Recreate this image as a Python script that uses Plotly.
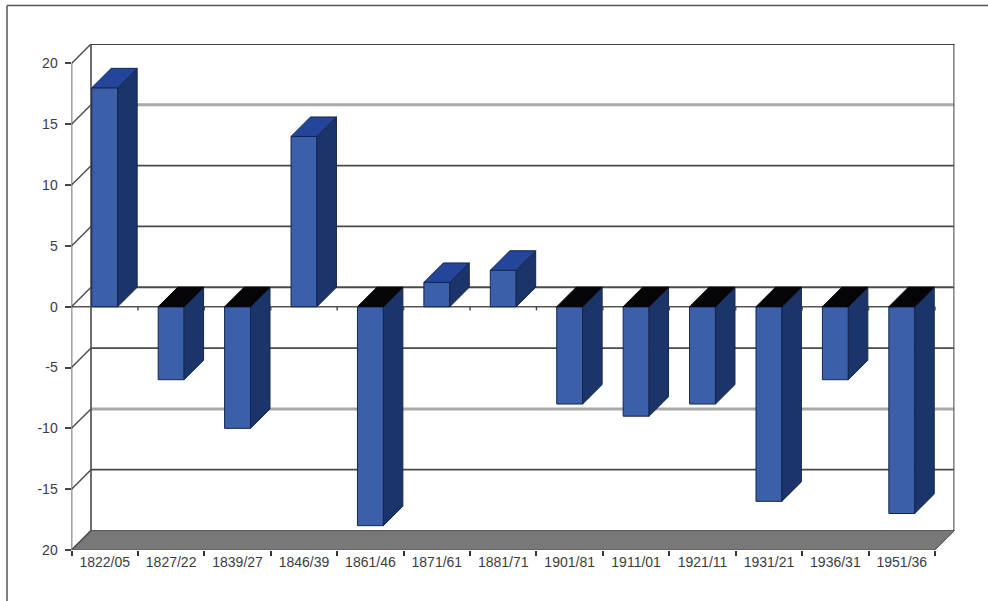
import plotly.graph_objects as go

periods = ["1822/05", "1827/22", "1839/27", "1846/39", "1861/46", "1871/61", "1881/71",
           "1901/81", "1911/01", "1921/11", "1931/21", "1936/31", "1951/36"]
changes = [18, -6, -10, 14, -18, 2, 3, -8, -9, -8, -16, -6, -17]
y_ticks = [20, 15, 10, 5, 0, -5, -10, -15, -20]
y_tick_text = ["20", "15", "10", "5", "0", "-5", "-10", "-15", "20"]

WIDTH, HEIGHT = 988, 601
DEPTH_X = 0.2936   # receding offset of the 3D box, in category units
DEPTH_Y = 1.6      # receding offset of the 3D box, in value units
BAR_W = 0.39
N = len(periods)
centers = [i + 0.5 for i in range(N)]

FRONT, SIDE, TOP_UP, TOP_DOWN = "#3b5fa8", "#1b3469", "#24469a", "#050508"
EDGE = "#14264f"
LINE = "#4a4a4a"

fig = go.Figure()


def segment(x0, y0, x1, y1, color=LINE, width=1.5):
    return dict(type="line", xref="x", yref="y", layer="below",
                x0=x0, y0=y0, x1=x1, y1=y1, line=dict(color=color, width=width))


shapes = []
# floor of the box
shapes.append(dict(
    type="path", xref="x", yref="y", layer="below",
    path=(f"M 0 -20 L {N} -20 L {N + DEPTH_X} {-20 + DEPTH_Y} "
          f"L {DEPTH_X} {-20 + DEPTH_Y} Z"),
    fillcolor="#787878", line=dict(color="#555555", width=1)))

# gridlines on the back wall and their diagonals on the side wall
for t in y_ticks:
    y_back = t + DEPTH_Y
    if t > -20:
        color, width = ("#a9a9a9", 3) if t in (15, -10) else (LINE, 1.8)
        shapes.append(segment(DEPTH_X, y_back, N + DEPTH_X, y_back, color, width))
    shapes.append(segment(0, t, DEPTH_X, y_back, LINE, 1.4))

# box edges and the front axis line at zero
shapes += [
    segment(0, -20, 0, 20, LINE, 1.6),
    segment(DEPTH_X, -20 + DEPTH_Y, DEPTH_X, 20 + DEPTH_Y, LINE, 1.6),
    segment(N + DEPTH_X, -20 + DEPTH_Y, N + DEPTH_X, 20 + DEPTH_Y, "#666666", 2.5),
    segment(DEPTH_X, 20 + DEPTH_Y, N + DEPTH_X, 20 + DEPTH_Y, "#444444", 2),
    segment(0, 0, N, 0, "#555555", 1.6),
    segment(N, -20, N + DEPTH_X, -20 + DEPTH_Y, "#555555", 1),
]

# frame around the page: top and left edges only
shapes += [
    dict(type="line", xref="paper", yref="paper", x0=7 / WIDTH, x1=1,
         y0=1 - 5.5 / HEIGHT, y1=1 - 5.5 / HEIGHT, line=dict(color="#555555", width=1.5)),
    dict(type="line", xref="paper", yref="paper", x0=7 / WIDTH, x1=7 / WIDTH,
         y0=0, y1=1 - 5.5 / HEIGHT, line=dict(color="#555555", width=1.5)),
]

# front faces
fig.add_trace(go.Bar(x=centers, y=changes, width=BAR_W, base=0, hoverinfo="skip",
                     marker=dict(color=FRONT, line=dict(color=EDGE, width=1))))

# side and cap faces of each bar
for cx, v in zip(centers, changes):
    x0, x1 = cx - BAR_W / 2, cx + BAR_W / 2
    cap_level = max(v, 0)
    fig.add_trace(go.Scatter(
        x=[x1, x1 + DEPTH_X, x1 + DEPTH_X, x1, x1],
        y=[cap_level, cap_level + DEPTH_Y, min(v, 0) + DEPTH_Y, min(v, 0), cap_level],
        mode="lines", fill="toself", fillcolor=SIDE,
        line=dict(color=EDGE, width=1), hoverinfo="skip"))
    fig.add_trace(go.Scatter(
        x=[x0, x1, x1 + DEPTH_X, x0 + DEPTH_X, x0],
        y=[cap_level, cap_level, cap_level + DEPTH_Y, cap_level + DEPTH_Y, cap_level],
        mode="lines", fill="toself", fillcolor=TOP_UP if v > 0 else TOP_DOWN,
        line=dict(color=EDGE if v > 0 else TOP_DOWN, width=1), hoverinfo="skip"))

# small tick marks under the zero line, between categories
for k in range(1, N + 1):
    shapes.append(dict(type="line", xref="x", yref="y", x0=k, x1=k, y0=0, y1=-0.3,
                       line=dict(color="#444444", width=1.4)))

tick_font = dict(family="Liberation Sans, Arial, sans-serif", size=14, color="#3c3c3c")

fig.update_layout(
    width=WIDTH, height=HEIGHT, showlegend=False, barmode="overlay",
    paper_bgcolor="white", plot_bgcolor="white",
    margin=dict(l=0, r=0, t=0, b=0, autoexpand=False), shapes=shapes,
    xaxis=dict(
        domain=[71.5 / WIDTH, 954.5 / WIDTH], range=[0, N + DEPTH_X],
        showgrid=False, zeroline=False, showline=False, anchor="y", automargin=False,
        tickmode="array", tickvals=centers, ticktext=periods, ticks="",
        ticklabelstandoff=2, tickfont=tick_font,
        minor=dict(tickmode="array", tickvals=list(range(N + 1)), ticks="outside",
                   ticklen=5, tickwidth=1.5, tickcolor="#333333", showgrid=False),
    ),
    yaxis=dict(
        domain=[1 - 550 / HEIGHT, 1 - 44 / HEIGHT], range=[-20, 20 + DEPTH_Y],
        showgrid=False, zeroline=False, showline=False, anchor="x", automargin=False,
        tickmode="array", tickvals=y_ticks, ticktext=y_tick_text,
        ticks="outside", ticklen=6, tickwidth=1.5, tickcolor="#444444", tickfont=tick_font,
        ticklabelstandoff=4,
    ),
)

fig.write_html("out.html")
